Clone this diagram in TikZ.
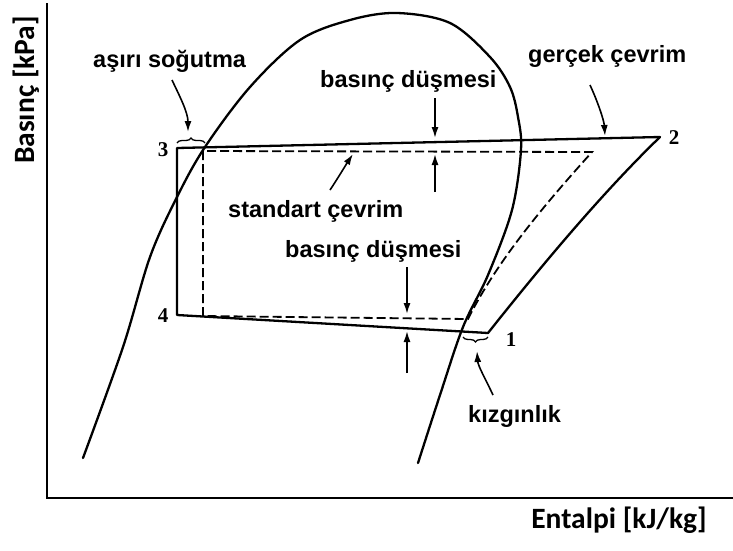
\documentclass[tikz,border=0pt]{standalone}
\usepackage{fontspec}
\setmainfont{Liberation Sans}
\newfontfamily\axisfont{Carlito}
\newfontfamily\numfont{Liberation Serif}
\usetikzlibrary{arrows.meta,decorations.pathreplacing}
\begin{document}
\begin{tikzpicture}[x=1pt,y=-1pt,
  solidline/.style={line width=2.3pt, line join=round, line cap=round},
  dline/.style={line width=1.8pt, dash pattern=on 9pt off 4pt},
  lbl/.style={font=\fontsize{23.5}{26}\selectfont\bfseries, inner sep=0pt, anchor=base west},
  num/.style={font=\numfont\fontsize{21}{22}\selectfont\bfseries, inner sep=0pt},
  axlbl/.style={font=\axisfont\fontsize{29.5}{32}\selectfont\bfseries, inner sep=0pt},
  ann/.style={line width=1.6pt, -{Latex[length=11pt,width=7pt]}},
  bracestyle/.style={line width=1.3pt, decorate, decoration={brace, amplitude=5pt}}]
\useasboundingbox (0,0) rectangle (733,550);
% axes
\coordinate (ytop) at (47,3);
\coordinate (orig) at (47,498);
\coordinate (xend) at (733,498);
\draw[line width=2.8pt] (ytop) -- (orig) -- (xend);
% cycle points
\coordinate (p3) at (177,148);
\coordinate (p2) at (660,137);
\coordinate (p1) at (488,333);
\coordinate (p4) at (177,315);
\coordinate (s3) at (203,151);
\coordinate (s2) at (592,152);
\coordinate (s1) at (468,319);
\coordinate (s4) at (203,316);
% saturation dome
\draw[solidline] plot[smooth, tension=0.55] coordinates {(83,458) (123,347) (150,257) (177,197) (205,147) (250,87) (300,40) (350,20) (397,13) (450,23) (490,57) (510,87) (518,117) (521,150) (512,210) (488,275) (463,327) (440,395) (418,463)};
% real cycle
\draw[solidline] (p4) -- (p3) -- (p2) .. controls (600,195) and (538,270) .. (p1) -- cycle;
% standard cycle
\draw[dline] (s4) -- (s3) -- (s2) .. controls (547,202) and (498,259) .. (s1) -- (s4);
% numbers
\node[num] (n3) at (163,150) {3};
\node[num] (n2) at (674,138) {2};
\node[num] (n4) at (163,316) {4};
\node[num] (n1) at (511,340) {1};
% labels
\node[lbl] (asiri) at (93,67) {aşırı soğutma};
\node[lbl] (bd1) at (320,87) {basınç düşmesi};
\node[lbl] (gercek) at (528,62) {gerçek çevrim};
\node[lbl] (std) at (228,217) {standart çevrim};
\node[lbl] (bd2) at (285,257) {basınç düşmesi};
\node[lbl] (kiz) at (468,422) {kızgınlık};
\node[axlbl, rotate=90] (ylab) at (26,90) {Basınç [kPa]};
\node[axlbl, anchor=base] (xlab) at (619,528) {Entalpi [kJ/kg]};
% annotation arrows
\coordinate (a1s) at (172,80); \coordinate (a1e) at (188,132);
\draw[ann] (a1s) .. controls (179,95) and (188,112) .. (a1e);
\draw[bracestyle] (177,143) -- (205,143);
\coordinate (a2s) at (590,85); \coordinate (a2e) at (605,136);
\draw[ann] (a2s) .. controls (597,100) and (604,120) .. (a2e);
\coordinate (a3s) at (435,98); \coordinate (a3e) at (435,138);
\draw[ann] (a3s) -- (a3e);
\coordinate (a4s) at (435,192); \coordinate (a4e) at (435,154);
\draw[ann] (a4s) -- (a4e);
\coordinate (a5s) at (330,190); \coordinate (a5e) at (353,154);
\draw[ann] (a5s) .. controls (338,178) and (347,163) .. (a5e);
\coordinate (a6s) at (407,267); \coordinate (a6e) at (407,314);
\draw[ann] (a6s) -- (a6e);
\coordinate (a7s) at (407,373); \coordinate (a7e) at (407,331);
\draw[ann] (a7s) -- (a7e);
\draw[bracestyle] (488,337) -- (463,337);
\coordinate (a8s) at (493,395); \coordinate (a8e) at (477,351);
\draw[ann] (a8s) .. controls (486,380) and (478,366) .. (a8e);
\end{tikzpicture}
\end{document}
